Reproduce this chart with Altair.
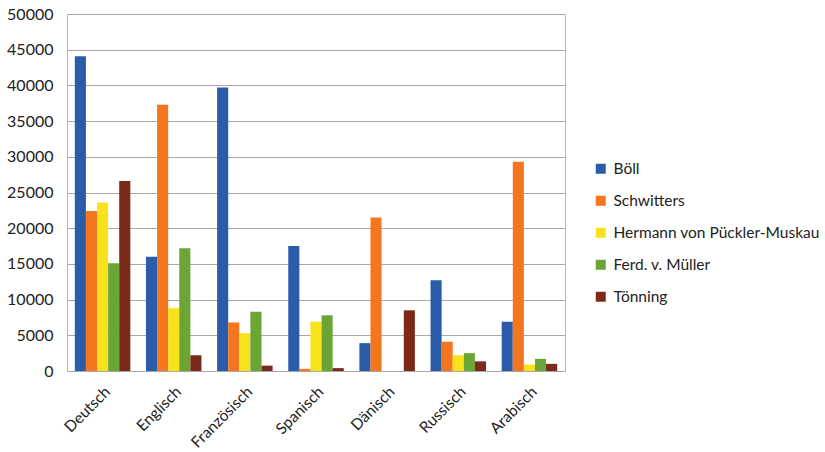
import altair as alt
import pandas as pd

# Translations per language, by author
languages = ["Deutsch", "Englisch", "Französisch", "Spanisch", "Dänisch", "Russisch", "Arabisch"]
authors = ["Böll", "Schwitters", "Hermann von Pückler-Muskau", "Ferd. v. Müller", "Tönning"]

boell = [44100, 16000, 39700, 17500, 3900, 12700, 6900]
schwitters = [22400, 37300, 6800, 300, 21500, 4100, 29300]
pueckler = [23600, 8800, 5300, 6900, 0, 2200, 900]
mueller = [15100, 17200, 8300, 7800, 0, 2500, 1700]
toenning = [26600, 2200, 750, 400, 8500, 1350, 1000]

colors = ["#2a5caa", "#f4761f", "#f7e21b", "#6aa535", "#7b2a1a"]

series = [boell, schwitters, pueckler, mueller, toenning]
rows = []
for author, values in zip(authors, series):
    for lang, v in zip(languages, values):
        rows.append({"Sprache": lang, "Autor": author, "Wert": v})
df = pd.DataFrame(rows)

FONT = "Lato"

chart = (
    alt.Chart(df)
    .mark_bar()
    .encode(
        x=alt.X(
            "Sprache:N",
            sort=languages,
            title=None,
            scale=alt.Scale(paddingInner=0.22, paddingOuter=0.11),
            axis=alt.Axis(
                labelAngle=-45,
                labelFontSize=15.5,
                labelFont=FONT,
                labelColor="#222222",
                ticks=False,
                domainColor="#a8a8a8",
                labelPadding=13,
            ),
        ),
        xOffset=alt.XOffset("Autor:N", sort=authors),
        y=alt.Y(
            "Wert:Q",
            title=None,
            scale=alt.Scale(domain=[0, 50000], nice=False),
            axis=alt.Axis(
                values=list(range(0, 50001, 5000)),
                format="d",
                labelFontSize=16,
                labelFont=FONT,
                labelColor="#222222",
                ticks=False,
                domain=False,
                gridColor="#a8a8a8",
                labelPadding=14,
            ),
        ),
        color=alt.Color(
            "Autor:N",
            sort=authors,
            scale=alt.Scale(domain=authors, range=colors),
            legend=alt.Legend(
                title=None,
                orient="none",
                legendX=526,
                legendY=147,
                symbolType="square",
                symbolSize=100,
                symbolStrokeWidth=0,
                labelFontSize=15.5,
                labelFont=FONT,
                labelColor="#222222",
                rowPadding=15,
                labelOffset=5,
                labelLimit=300,
            ),
        ),
    )
    .properties(
        width=498,
        height=357,
        autosize=alt.AutoSizeParams(type="none"),
        padding={"left": 67, "top": 14, "right": 260, "bottom": 81},
        background="white",
    )
    .configure_view(stroke="#b8b8b8", strokeWidth=1)
)

chart.save("out.html", embed_options={"renderer": "svg", "actions": False})
